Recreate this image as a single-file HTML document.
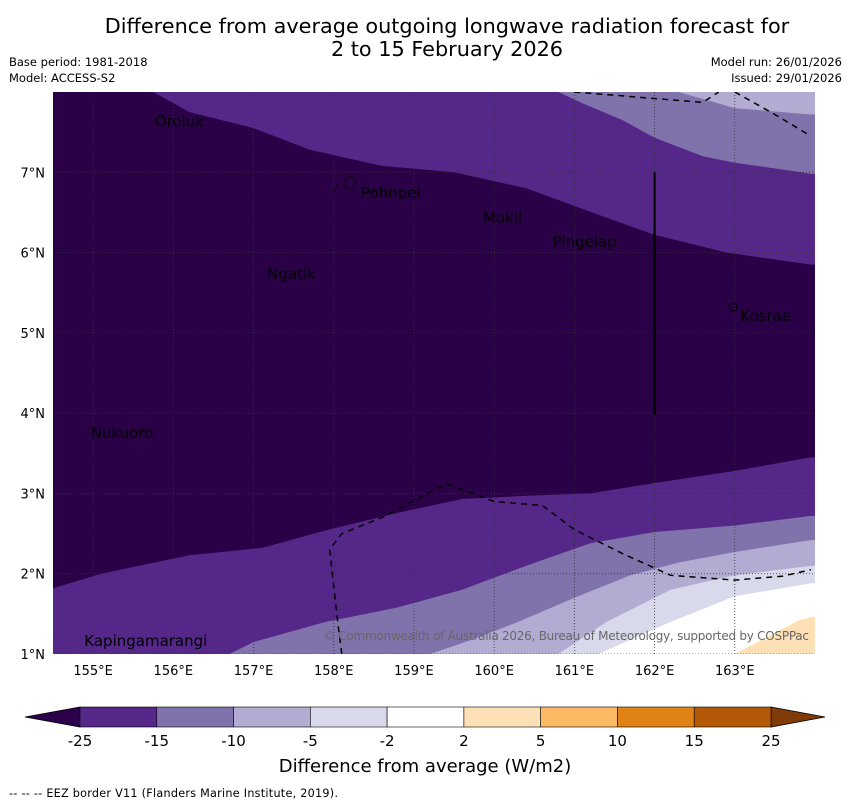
<!DOCTYPE html>
<html><head><meta charset="utf-8"><style>
body{margin:0;background:#fff;width:850px;height:804px;overflow:hidden;font-family:"DejaVu Sans","Liberation Sans",sans-serif}
svg{display:block}
</style></head><body>
<svg id="chart" width="850" height="804" xmlns="http://www.w3.org/2000/svg">
<text x="447" y="33" text-anchor="middle" font-size="20.8">Difference from average outgoing longwave radiation forecast for</text>
<text x="447" y="56" text-anchor="middle" font-size="20.8">2 to 15 February 2026</text>
<text x="9" y="66" font-size="11.5">Base period: 1981-2018</text>
<text x="9" y="82" font-size="11.5">Model: ACCESS-S2</text>
<text x="842" y="66" font-size="11.5" text-anchor="end">Model run: 26/01/2026</text>
<text x="842" y="82" font-size="11.5" text-anchor="end">Issued: 29/01/2026</text>
<g id="map"></g>
<g id="cbar"></g>
<text x="425" y="772" text-anchor="middle" font-size="18">Difference from average (W/m2)</text>
<text x="9" y="797" font-size="11.2" textLength="329">--  --  -- EEZ border V11 (Flanders Marine Institute, 2019).</text>
</svg>
<script>
// Contour boundaries (lon, lat) — left to right
const bandColors = ["#2a0046","#542788","#8073ac","#b2abd2","#d8daeb","#ffffff","#fee0b6"];
const topBoundA = [[154.5,8],[155.75,8],[156.2,7.75],[157.0,7.55],[157.7,7.28],[158.6,7.08],[159.5,7.0],[160.4,6.8],[161.3,6.47],[162.0,6.22],[162.9,6.0],[163.95,5.85]];
const topBoundB = [[160.8,8],[161.1,7.86],[161.6,7.65],[162.0,7.43],[162.6,7.2],[163.0,7.12],[163.7,7.02],[163.95,6.98]];
const topBoundC = [[162.3,8],[163.0,7.8],[163.7,7.74],[163.95,7.72]];
const botBound1 = [[154.5,1.82],[155.1,2.0],[156.2,2.23],[157.1,2.32],[157.9,2.54],[158.8,2.76],[159.6,2.93],[160.4,2.97],[161.2,3.0],[162.0,3.13],[163.0,3.28],[163.95,3.45]];
const botBound2 = [[156.7,1.0],[157.0,1.15],[157.9,1.4],[158.8,1.58],[159.6,1.8],[160.4,2.1],[161.2,2.38],[162.0,2.52],[163.0,2.6],[163.95,2.72]];
const botBound3 = [[159.2,1.0],[159.7,1.17],[160.3,1.4],[161.0,1.7],[161.7,1.98],[162.3,2.14],[163.0,2.27],[163.95,2.42]];
const botBound4 = [[160.8,1.0],[161.4,1.4],[162.2,1.8],[163.0,1.98],[163.95,2.1]];
const botBound5 = [[161.3,1.0],[162.2,1.4],[163.0,1.72],[163.95,1.88]];
const botBound6 = [[163.0,1.0],[163.8,1.42],[163.95,1.46]];
const eezTop1 = [[161.0,8],[162.6,7.87],[162.8,8]];
const eezTop2 = [[163.0,8],[163.5,7.72],[163.95,7.45]];
const eezBottom = [[158.1,1.0],[158.05,1.4],[157.95,2.3],[158.1,2.5],[158.6,2.7],[159.4,3.12],[160.0,2.9],[160.6,2.85],[161.0,2.55],[161.6,2.25],[162.2,1.98],[163.0,1.92],[163.6,1.97],[163.95,2.05]];
const lonTicks = [155,156,157,158,159,160,161,162,163];
const latTicks = [1,2,3,4,5,6,7];
const places = [["Oroluk",155.77,7.63],["Pohnpei",158.34,6.74],["Mokil",159.86,6.43],["Pingelap",160.73,6.13],["Ngatik",157.17,5.73],["Kosrae",163.07,5.21],["Nukuoro",154.97,3.75],["Kapingamarangi",154.89,1.16]];
const cbLabels = ["-25","-15","-10","-5","-2","2","5","10","15","25"];
const cbColors = ["#542788","#8073ac","#b2abd2","#d8daeb","#ffffff","#fee0b6","#fdb863","#e08214","#b35806"];

const X0=53,X1=815,Y0=92,Y1=654, LON0=154.5,LON1=164.0,LAT0=1,LAT1=8;
const sx=l=>X0+(l-LON0)/(LON1-LON0)*(X1-X0);
const sy=l=>Y1-(l-LAT0)/(LAT1-LAT0)*(Y1-Y0);
const NS="http://www.w3.org/2000/svg";
const map=document.getElementById('map');
function mk(tag,attrs,parent){const e=document.createElementNS(NS,tag);for(const k in attrs)e.setAttribute(k,attrs[k]);(parent||map).appendChild(e);return e;}
const pts=a=>a.map(p=>sx(p[0]).toFixed(1)+","+sy(p[1]).toFixed(1)).join(" ");
const clip=mk('clipPath',{id:'mc'});mk('rect',{x:X0,y:Y0,width:X1-X0,height:Y1-Y0},clip);
const g=mk('g',{'clip-path':'url(#mc)'});
let e=mk('rect',{x:X0,y:Y0,width:X1-X0,height:Y1-Y0,fill:bandColors[0]},g);


function above(b,col,name){const p=b.concat([[LON1+0.1,b[b.length-1][1]],[LON1+0.1,LAT1+0.1],[b[0][0],LAT1+0.1]]);
 const el=mk('polygon',{points:pts(p),fill:col},g);
 
 }
function below(b,col,name){const p=b.concat([[LON1+0.1,b[b.length-1][1]],[LON1+0.1,LAT0-0.1],[b[0][0]-0.5,LAT0-0.1]]);
 const el=mk('polygon',{points:pts(p),fill:col},g);
 
 }
above(topBoundA,bandColors[1],'band-top-minus25-15');
above(topBoundB,bandColors[2],'band-top-minus15-10');
above(topBoundC,bandColors[3],'band-top-minus10-5');
below([[154.4,botBound1[0][1]]].concat(botBound1),bandColors[1],'band-bottom-minus25-15');
below(botBound2,bandColors[2],'band-bottom-minus15-10');
below(botBound3,bandColors[3],'band-bottom-minus10-5');
below(botBound4,bandColors[4],'band-bottom-minus5-2');
below(botBound5,bandColors[5],'band-bottom-neutral');
below(botBound6,bandColors[6],'band-bottom-plus2-5');
lonTicks.forEach(l=>{const el=mk('line',{x1:sx(l),x2:sx(l),y1:Y0,y2:Y1,stroke:'#333','stroke-width':0.8,'stroke-dasharray':'1,2'},g);
 
 
 const t=mk('text',{x:sx(l),y:675,'text-anchor':'middle','font-size':13});t.textContent=l+'°E';
 
 });
latTicks.forEach(l=>{const el=mk('line',{x1:X0,x2:X1,y1:sy(l),y2:sy(l),stroke:'#333','stroke-width':0.8,'stroke-dasharray':'1,2'},g);
 
 
 const t=mk('text',{x:45,y:sy(l)+5,'text-anchor':'end','font-size':13});t.textContent=l+'°N';
 
 });
[eezTop1,eezTop2,eezBottom].forEach((b,i)=>{const el=mk('polyline',{points:pts(b),fill:'none',stroke:'#000','stroke-width':1.5,'stroke-dasharray':'6,5'},g);
 
 });
e=mk('polyline',{points:pts([[158.0,6.75],[158.05,6.85]]),fill:'none',stroke:'#000','stroke-width':1.2,'stroke-dasharray':'3,3'},g);


e=mk('line',{x1:sx(162),x2:sx(162),y1:sy(7),y2:sy(3.98),stroke:'#000','stroke-width':2},g);


e=mk('circle',{cx:sx(158.2),cy:sy(6.87),r:6,fill:'none',stroke:'#000','stroke-width':1.3,'stroke-dasharray':'2,1'},g);


e=mk('circle',{cx:sx(162.98),cy:sy(5.32),r:4,fill:'none',stroke:'#000','stroke-width':1.1},g);


places.forEach(p=>{const t=mk('text',{x:sx(p[1]),y:sy(p[2])+5,'font-size':15,fill:'#000'},g);t.textContent=p[0];
 
 });
e=mk('text',{x:809,y:640,'text-anchor':'end','font-size':12,textLength:486,fill:'#666'},g);
e.textContent='© Commonwealth of Australia 2026, Bureau of Meteorology, supported by COSPPac';


const cb=document.getElementById('cbar');
const CB0=80,CB1=771,CBy=707,CBh=20,seg=(CB1-CB0)/cbColors.length;
e=mk('polygon',{points:`${CB0},${CBy} 25,${CBy+CBh/2} ${CB0},${CBy+CBh}`,fill:'#2d004b',stroke:'#000','stroke-width':0.8},cb);


e=mk('polygon',{points:`${CB1},${CBy} 825,${CBy+CBh/2} ${CB1},${CBy+CBh}`,fill:'#7f3b08',stroke:'#000','stroke-width':0.8},cb);


cbColors.forEach((c,i)=>{const r=mk('rect',{x:CB0+i*seg,y:CBy,width:seg,height:CBh,fill:c,stroke:'#000','stroke-width':0.6},cb);
 
 });
cbLabels.forEach((l,i)=>{const t=mk('text',{x:CB0+i*seg,y:746,'text-anchor':'middle','font-size':15},cb);t.textContent=l;
 
 });
</script>
</body></html>
